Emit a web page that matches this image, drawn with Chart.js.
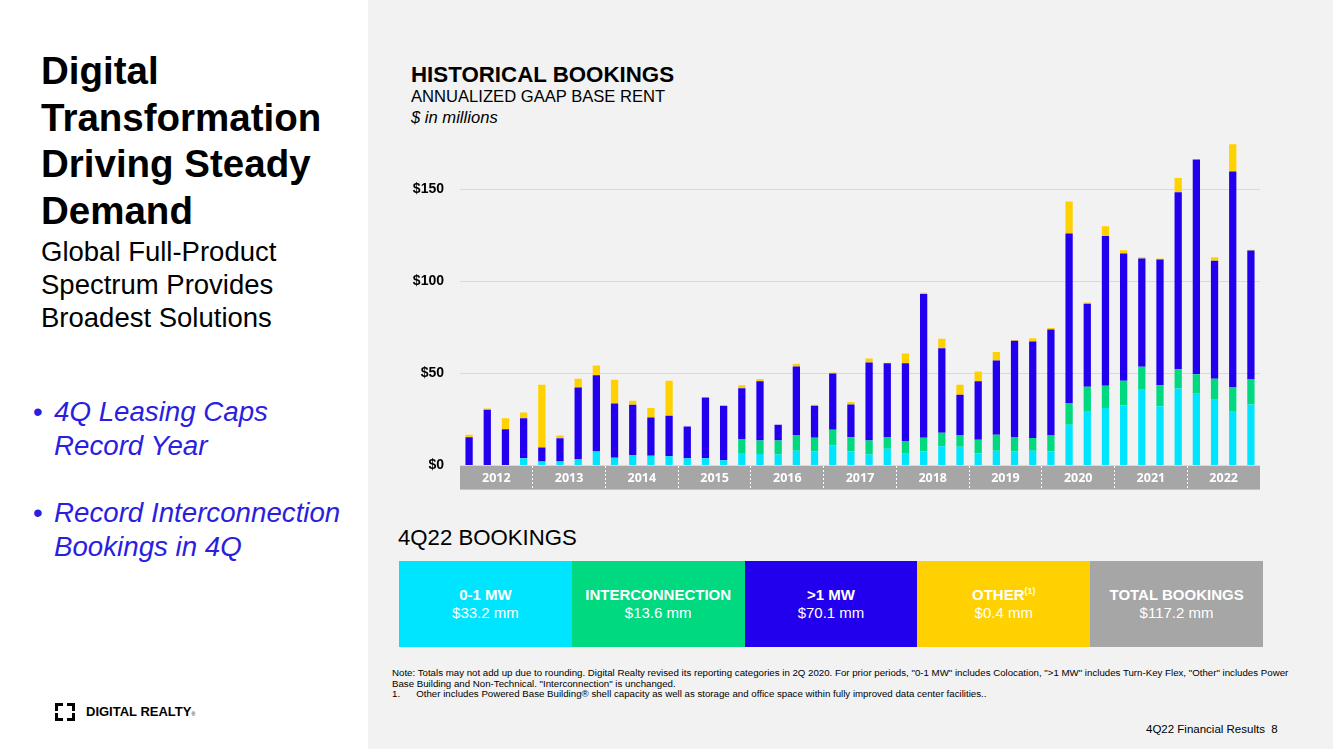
<!DOCTYPE html>
<html>
<head>
<meta charset="utf-8">
<script src="https://cdn.jsdelivr.net/npm/chart.js@4.4.1/dist/chart.umd.min.js"></script>
<style>
  body { margin: 0; width: 1333px; height: 749px; overflow: hidden; background: #fff; font-family: "Liberation Sans", Arial, sans-serif; position: relative; }
  .panel { position: absolute; left: 368px; top: 0; width: 965px; height: 749px; background: #f2f2f2; }
  .abs { position: absolute; white-space: nowrap; }
  .title { left: 41px; top: 48px; font-size: 38.5px; line-height: 46.5px; font-weight: bold; color: #000; }
  .sub { left: 41px; top: 235px; font-size: 27.5px; line-height: 33px; color: #000; }
  .bullets { left: 33px; font-size: 27.7px; line-height: 33.5px; font-style: italic; color: #2b1ee0; }
  .bullets span { display: inline-block; width: 21px; font-style: normal; }
  .boxes { position: absolute; left: 399px; top: 561px; width: 864px; height: 86px; display: flex; }
  .boxes div { flex: 1; color: #fff; text-align: center; font-size: 15px; line-height: 18px; padding-top: 25px; box-sizing: border-box; }
  .boxes b { display: block; }
  .boxes sup { font-size: 9px; line-height: 0; vertical-align: 6px; }
  .note { left: 392px; top: 668px; font-size: 9.7px; line-height: 10.5px; color: #000; }
  .logo { left: 55px; top: 703px; width: 20px; height: 18px; }
  .logo i { position: absolute; width: 5px; height: 5px; border-color: #000; border-style: solid; border-width: 0; }
</style>
</head>
<body>
<div class="panel"></div>

<div class="abs title">Digital<br>Transformation<br>Driving Steady<br>Demand</div>
<div class="abs sub">Global Full-Product<br>Spectrum Provides<br>Broadest Solutions</div>
<div class="abs bullets" style="top:395px"><span>•</span>4Q Leasing Caps<br><span></span>Record Year</div>
<div class="abs bullets" style="top:496px"><span>•</span>Record Interconnection<br><span></span>Bookings in 4Q</div>

<div class="abs logo">
  <i style="left:0;top:0;border-left-width:3px;border-top-width:3px"></i>
  <i style="left:0;bottom:0;border-left-width:3px;border-bottom-width:3px"></i>
  <i style="right:0;top:0;border-right-width:3px;border-top-width:3px"></i>
  <i style="right:0;bottom:0;border-right-width:3px;border-bottom-width:3px"></i>
</div>
<div class="abs" style="left:86px;top:704px;font-size:13px;font-weight:bold;letter-spacing:0px">DIGITAL REALTY<span style="font-size:5px;font-weight:normal">®</span></div>

<div class="abs" style="left:411px;top:64px;font-size:22.3px;line-height:22px;font-weight:bold">HISTORICAL BOOKINGS</div>
<div class="abs" style="left:411px;top:89px;font-size:16.6px;line-height:16px">ANNUALIZED GAAP BASE RENT</div>
<div class="abs" style="left:411px;top:110px;font-size:16.6px;line-height:16px;font-style:italic">$ in millions</div>

<canvas id="bookings-chart" width="880" height="380" style="position:absolute;left:380px;top:110px;width:880px;height:380px"></canvas>

<div class="abs" style="left:398px;top:527px;font-size:22.2px;line-height:22px">4Q22 BOOKINGS</div>
<div class="boxes">
  <div style="background:#00e5ff"><b>0-1 MW</b>$33.2 mm</div>
  <div style="background:#00d980"><b>INTERCONNECTION</b>$13.6 mm</div>
  <div style="background:#2200ee"><b>&gt;1 MW</b>$70.1 mm</div>
  <div style="background:#ffd100"><b>OTHER<sup>(1)</sup></b>$0.4 mm</div>
  <div style="background:#a6a6a6"><b>TOTAL BOOKINGS</b>$117.2 mm</div>
</div>

<div class="abs note">Note: Totals may not add up due to rounding. Digital Realty revised its reporting categories in 2Q 2020. For prior periods, "0-1 MW" includes Colocation, "&gt;1 MW" includes Turn-Key Flex, "Other" includes Power<br>Base Building and Non-Technical. "Interconnection" is unchanged.<br>1.&nbsp;&nbsp;&nbsp;&nbsp;&nbsp;&nbsp;Other includes Powered Base Building® shell capacity as well as storage and office space within fully improved data center facilities..</div>
<div class="abs" style="left:1146px;top:722px;font-size:11.5px;line-height:14px">4Q22 Financial Results&nbsp;&nbsp;8</div>

<script>
const years = ["2012", "2013", "2014", "2015", "2016", "2017", "2018", "2019", "2020", "2021", "2022"];
const quarters = years.flatMap((y) => ["1Q", "2Q", "3Q", "4Q"].map((q) => q + y.slice(2)));
const yTicks = [0, 50, 100, 150];

// $ millions per quarter
const smallMW = [
  0, 0, 0, 4.0, 2.2, 2.2, 3.6, 7.6, 4.3, 5.8, 5.4, 5.1,
  4.0, 4.0, 2.9, 6.9, 6.3, 6.0, 8.1, 7.6, 11.0, 7.6, 6.0, 9.2,
  6.5, 7.6, 10.5, 10.3, 6.7, 8.1, 7.6, 8.1, 7.6, 22.2, 29.3, 31.3,
  32.7, 41.2, 32.2, 41.9, 39.0, 35.8, 29.3, 33.2
];
const interconnection = [
  0, 0, 0, 0, 0, 0, 0, 0, 0, 0, 0, 0,
  0, 0, 0, 7.6, 7.3, 7.7, 8.5, 7.6, 8.5, 7.8, 7.6, 6.3,
  6.9, 7.6, 7.4, 6.3, 7.4, 8.7, 7.9, 6.9, 8.7, 11.8, 13.5, 12.1,
  13.4, 12.5, 11.5, 10.5, 10.7, 11.4, 13.2, 13.6
];
const largeMW = [
  15.4, 30.4, 19.7, 21.8, 7.7, 12.6, 38.9, 41.5, 29.5, 27.3, 20.8, 22.0,
  17.3, 33.0, 29.6, 27.6, 32.3, 8.5, 37.2, 17.3, 30.5, 17.8, 42.4, 40.1,
  42.2, 78.0, 45.9, 21.9, 31.8, 40.3, 52.4, 52.4, 57.6, 92.1, 45.2, 81.4,
  69.2, 58.9, 68.3, 96.1, 116.7, 64.1, 117.4, 70.1
];
const other = [
  1.4, 0.7, 6.1, 3.1, 34.0, 1.5, 4.7, 5.3, 12.8, 2.1, 5.1, 19.0,
  0, 0, 0, 1.6, 1.1, 0, 1.5, 0.6, 0.6, 1.3, 2.2, 0.3,
  5.3, 0.7, 5.2, 5.4, 5.2, 4.7, 0.3, 1.8, 0.9, 17.5, 0.7, 5.3,
  1.8, 0.7, 0.6, 7.8, 0, 2.0, 14.8, 0.4
];

const makeSeries = (label, data, color) => ({
  label: label,
  data: data,
  backgroundColor: color,
  borderWidth: 0,
  categoryPercentage: 1,
  barPercentage: 0.4,
});

const ctx = document.getElementById("bookings-chart").getContext("2d");
new Chart(ctx, {
  type: "bar",
  data: {
    labels: quarters,
    datasets: [
      makeSeries("0-1 MW", smallMW, "#00e5ff"),
      makeSeries("Interconnection", interconnection, "#00d980"),
      makeSeries(">1 MW", largeMW, "#2200ee"),
      makeSeries("Other", other, "#ffd100"),
    ],
  },
  options: {
    responsive: false,
    animation: false,
    devicePixelRatio: 1,
    layout: { padding: { top: 10 } },
    plugins: { legend: { display: false }, tooltip: { enabled: false } },
    scales: {
      x: { display: false, stacked: true },
      x2: {
        type: "category",
        labels: years,
        offset: true,
        position: "bottom",
        backgroundColor: "#a6a6a6",
        border: { display: false },
        grid: {
          offset: true,
          drawOnChartArea: false,
          tickLength: 24,
          tickWidth: 1,
          tickBorderDash: [2, 2],
          tickColor: (c) => (c.index === 0 || c.index === years.length ? "rgba(0,0,0,0)" : "#ffffff"),
        },
        ticks: {
          color: "#ffffff",
          padding: -19,
          maxRotation: 0,
          font: { family: "Open Sans", weight: "bold", size: 12.5 },
        },
        afterFit: (s) => { s.height = 24; },
      },
      y: {
        stacked: true,
        min: 0,
        max: 180,
        afterBuildTicks: (s) => { s.ticks = yTicks.map((v) => ({ value: v })); },
        border: { display: false },
        grid: { color: "#d9d9d9", drawTicks: false },
        ticks: {
          callback: (v) => "$" + v,
          color: "#000000",
          padding: 16,
          font: { family: "Liberation Sans", weight: "bold", size: 14 },
        },
        afterFit: (s) => { s.width = 80; },
      },
    },
  },
});
</script>
</body>
</html>
